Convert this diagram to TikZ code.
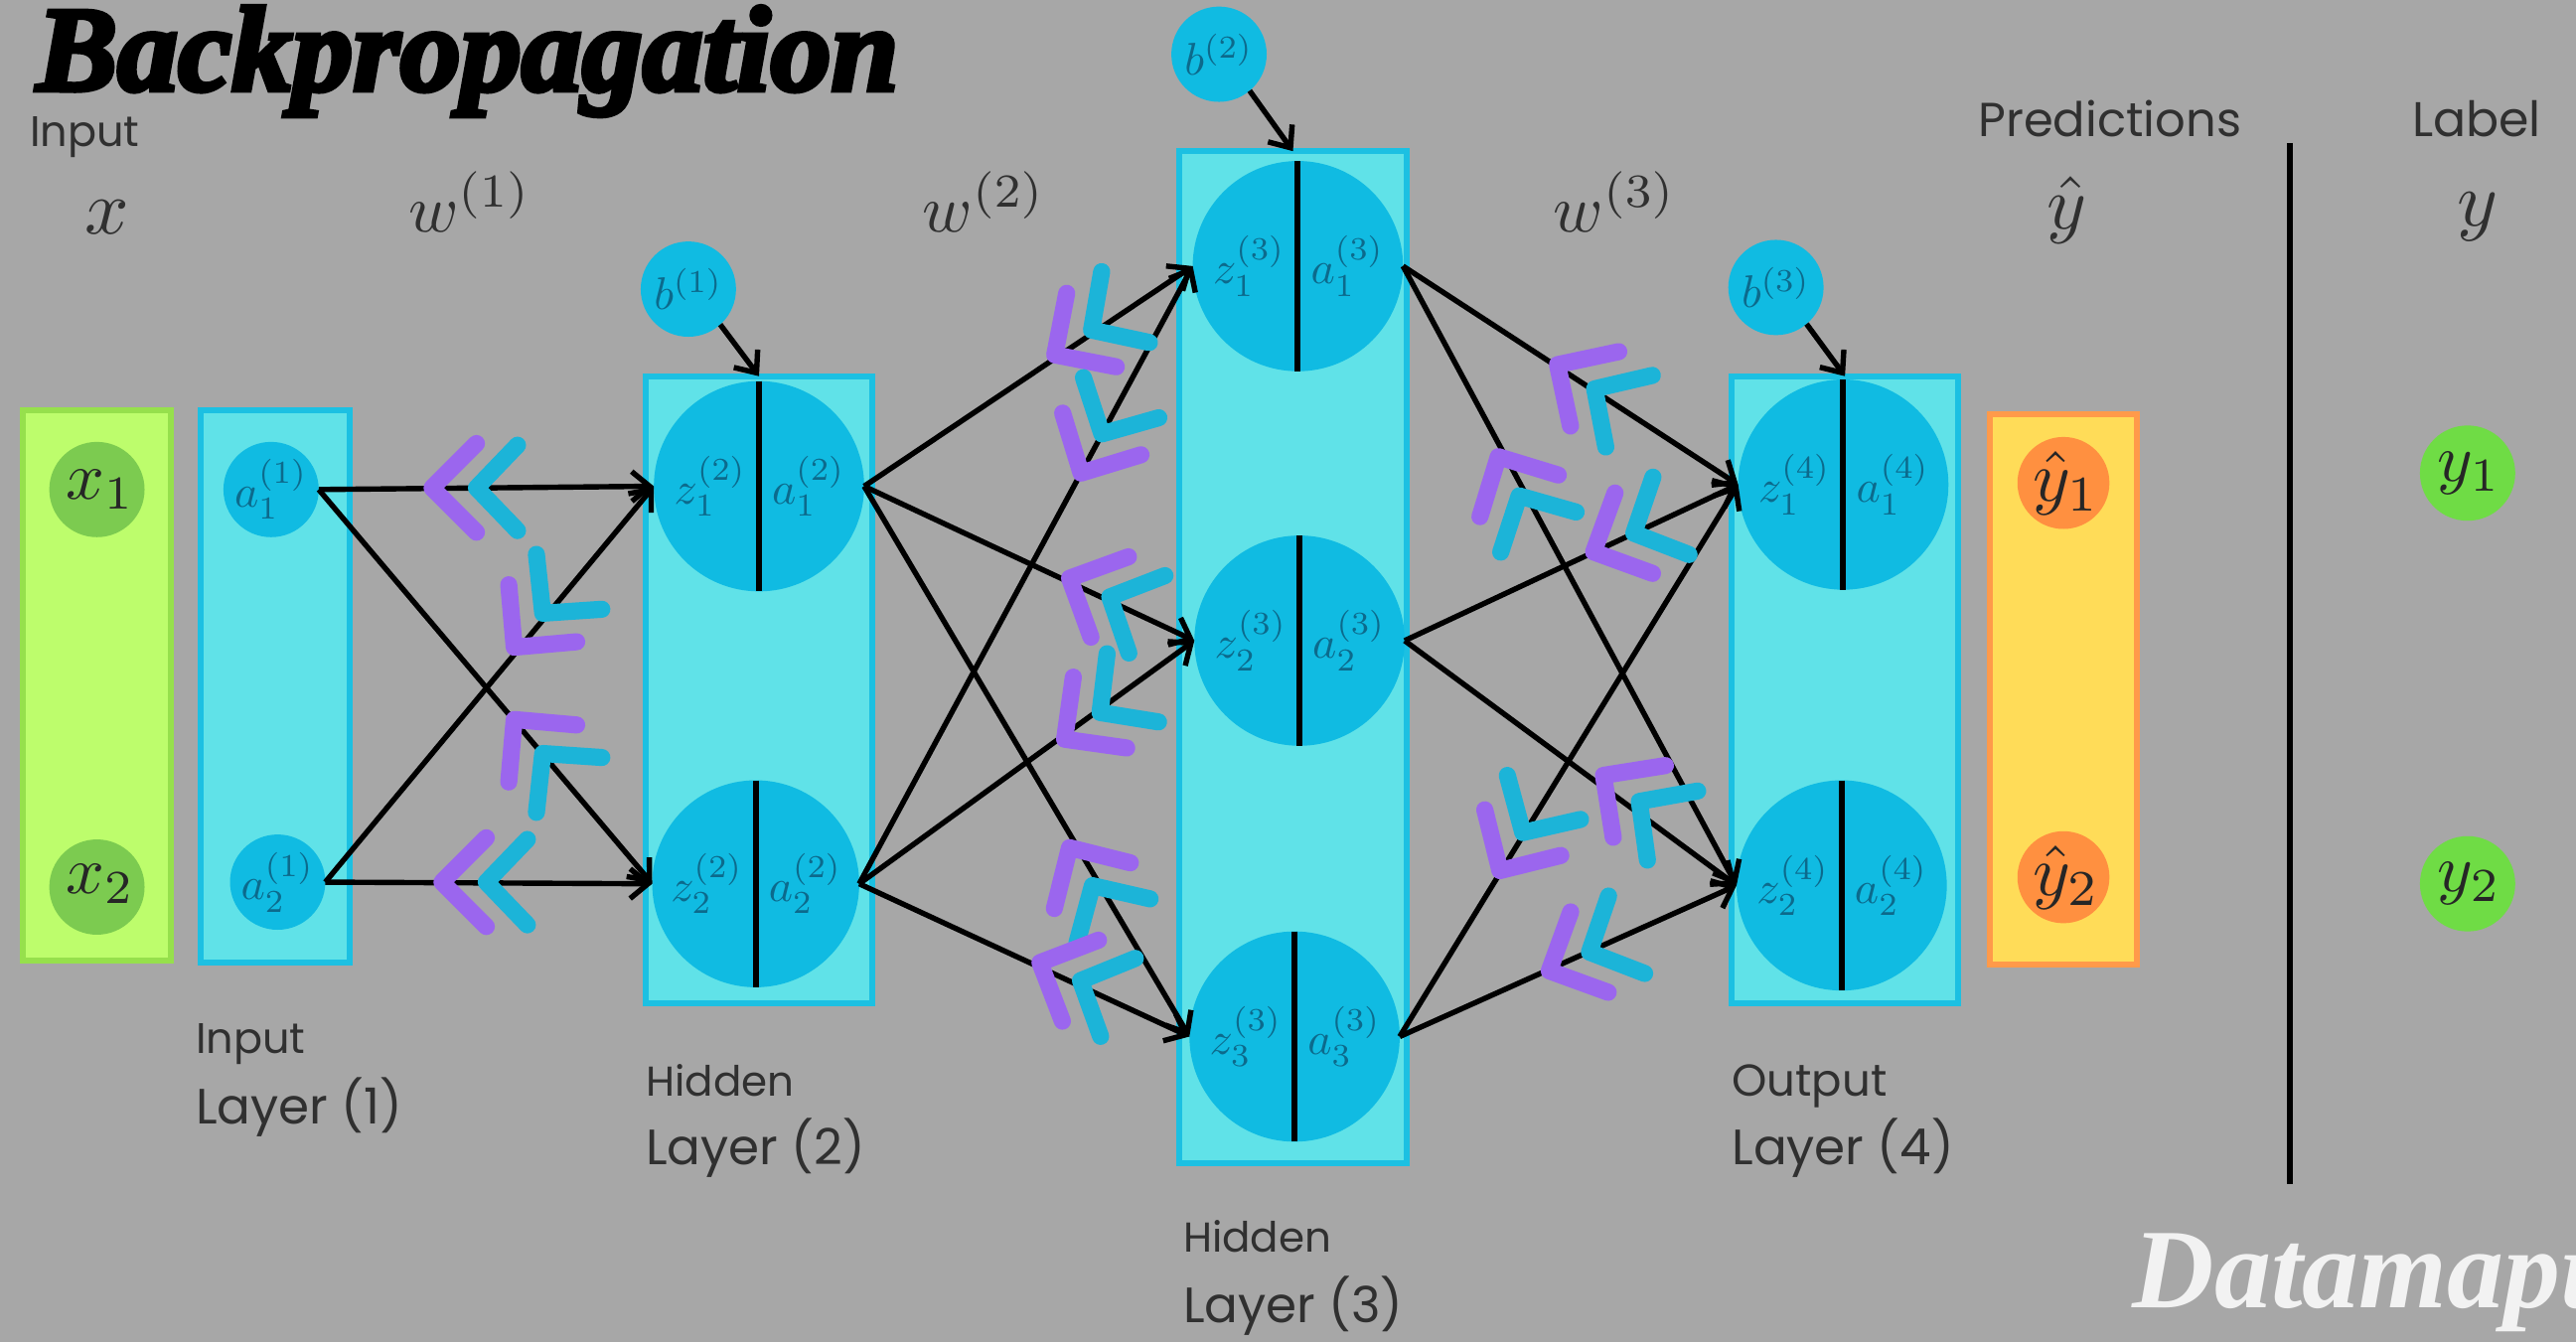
\documentclass[tikz,border=0pt]{standalone}
\usepackage{fontspec}
\usepackage{graphicx}
\usetikzlibrary{arrows.meta}
\newfontfamily\handf{Poppins}
\newfontfamily\titlef[FakeBold=4]{Liberation Serif}
\newfontfamily\wmarkf{Liberation Serif}
\definecolor{bggray}{HTML}{A7A7A7}
\definecolor{cyanfill}{HTML}{60E2E8}
\definecolor{cyanline}{HTML}{1CC0E2}
\definecolor{cyandeep}{HTML}{10BBE2}
\definecolor{limefill}{HTML}{BDFD6C}
\definecolor{limeline}{HTML}{96E04C}
\definecolor{leafdeep}{HTML}{7CCB50}
\definecolor{yellowfill}{HTML}{FFDC58}
\definecolor{orangeline}{HTML}{FF9A4A}
\definecolor{orangedeep}{HTML}{FF9040}
\definecolor{greendeep}{HTML}{6FDC45}
\definecolor{purplec}{HTML}{9B66EE}
\definecolor{bluec}{HTML}{1CB4D8}
\definecolor{inktext}{HTML}{0C6A8C}
\definecolor{graytext}{HTML}{303030}
\newcommand{\mth}[2]{\scalebox{#1}{$#2$}}
\newcommand{\handsz}[1]{\handf\fontsize{#1}{#1}\selectfont}
\newcommand{\chev}[3]{%
  \begin{scope}[shift={(#1,#2)},rotate=#3]
    \draw[chevblue] (-52,-26) -- (-27,0) -- (-52,26);
    \draw[chevpurple] (-27,-27) -- (0,0) -- (-27,27);
  \end{scope}}
\tikzset{
  bx/.style n args={4}{draw=#3,fill=#4,line width=3pt,inner sep=0pt,outer sep=0pt,
     minimum width=#1*0.82685pt,minimum height=#2*0.82685pt},
  cir/.style n args={2}{circle,fill=#2,draw=none,inner sep=0pt,outer sep=0pt,minimum size=#1*1.6537pt},
  edge/.style={draw=black,line width=2.7pt,-{Straight Barb[length=9pt,width=15pt,line width=2.7pt]}},
  split/.style={draw=black,line width=3pt},
  chevblue/.style={draw=bluec,line width=8.6pt,line cap=round,line join=round},
  chevpurple/.style={draw=purplec,line width=8.6pt,line cap=round,line join=round},
  hand/.style={anchor=base west,inner sep=0pt,text=graytext},
  mlab/.style={inner sep=0pt,text=graytext},
  clab/.style={inner sep=0pt,text=black!85},
  nlab/.style={inner sep=0pt,text=inktext},
}
\begin{document}
\begin{tikzpicture}[x=0.82685pt,y=-0.82685pt]
\useasboundingbox (0,0) rectangle (1568,817);
\clip (0,0) rectangle (1568,817);
\fill[bggray] (0,0) rectangle (1568,817);

% layer boxes
\node[bx={90}{335}{limeline}{limefill}] (bxx) at (59,417.5) {};
\node[bx={91}{336}{cyanline}{cyanfill}] (bx1) at (167.5,418) {};
\node[bx={138}{382}{cyanline}{cyanfill}] (bx2) at (462,420) {};
\node[bx={138}{616}{cyanline}{cyanfill}] (bx3) at (787,400) {};
\node[bx={138}{382}{cyanline}{cyanfill}] (bx4) at (1123,420) {};
\node[bx={90}{335}{orangeline}{yellowfill}] (bxy) at (1256,419.5) {};

% input and output circles
\node[cir={29}{leafdeep}] (x1) at (59,298) {};
\node[cir={29}{leafdeep}] (x2) at (59,540) {};
\node[cir={29}{cyandeep}] (a11) at (165,298) {};
\node[cir={29}{cyandeep}] (a12) at (169,537) {};
\node[cir={29}{cyandeep}] (b1) at (419,176) {};
\node[cir={29}{cyandeep}] (b2) at (742,33) {};
\node[cir={29}{cyandeep}] (b3) at (1081,175) {};
\node[cir={28}{orangedeep}] (yh1) at (1256,294) {};
\node[cir={28}{orangedeep}] (yh2) at (1256,534) {};
\node[cir={29}{greendeep}] (y1) at (1502,288) {};
\node[cir={29}{greendeep}] (y2) at (1502,538) {};

% split neurons
\node[cir={64}{cyandeep}] (h21) at (462,296) {};
\node[cir={63}{cyandeep}] (h22) at (460,538) {};
\node[cir={64}{cyandeep}] (h31) at (790,162) {};
\node[cir={64}{cyandeep}] (h32) at (791,390) {};
\node[cir={64}{cyandeep}] (h33) at (788,631) {};
\node[cir={64}{cyandeep}] (h41) at (1122,295) {};
\node[cir={64}{cyandeep}] (h42) at (1121,539) {};
\foreach \n in {h21,h22,h31,h32,h33,h41,h42}{\draw[split] (\n.north) -- (\n.south);}

% connectors
\foreach \s in {a11,a12}{\foreach \t in {h21,h22}{\draw[edge] (\s.east) -- (\t.west);}}
\foreach \s in {h21,h22}{\foreach \t in {h31,h32,h33}{\draw[edge] (\s.east) -- (\t.west);}}
\foreach \s in {h31,h32,h33}{\foreach \t in {h41,h42}{\draw[edge] (\s.east) -- (\t.west);}}
\draw[edge] (b1.-48) -- (bx2.north);
\draw[edge] (b2.-50) -- (bx3.north);
\draw[edge] (b3.-50) -- (bx4.north);

% backward chevrons
\chev{263}{297}{180}
\chev{313}{394}{230}
\chev{313}{438}{130}
\chev{269}{537}{180}
\chev{642}{216}{214}
\chev{658}{288}{242}
\chev{651}{352}{155}
\chev{648}{450}{217}
\chev{651}{516}{121}
\chev{633}{586}{156}
\chev{948}{222}{147}
\chev{912}{278}{118}
\chev{970}{336}{205}
\chev{976}{472}{144}
\chev{913}{530}{239}
\chev{943}{591}{205}

% divider
\coordinate (divtop) at (1394,87);
\coordinate (divbot) at (1394,721);
\draw[black,line width=3pt] (divtop) -- (divbot);

% math labels
\node[mlab] (lx) at (65,132) {\mth{3.9}{x}};
\node[mlab] (lw1) at (286,123) {\mth{3.4}{w^{(1)}}};
\node[mlab] (lw2) at (599,123) {\mth{3.4}{w^{(2)}}};
\node[mlab] (lw3) at (983,123) {\mth{3.4}{w^{(3)}}};
\node[mlab] (lyh) at (1258,128) {\mth{3.8}{\hat{y}}};
\node[mlab] (ly) at (1508,132) {\mth{3.9}{y}};

\node[clab] (tx1) at (61,298) {\mth{3.4}{x_1}};
\node[clab] (tx2) at (61,538) {\mth{3.4}{x_2}};
\node[clab] (tyh1) at (1258,294) {\mth{3.6}{\hat{y}_1}};
\node[clab] (tyh2) at (1258,534) {\mth{3.6}{\hat{y}_2}};
\node[clab] (ty1) at (1503,288) {\mth{3.4}{y_1}};
\node[clab] (ty2) at (1503,538) {\mth{3.4}{y_2}};

\node[nlab] (ta11) at (a11) {\mth{2.3}{a_1^{(1)}}};
\node[nlab] (ta12) at (a12) {\mth{2.3}{a_2^{(1)}}};
\node[nlab] (tb1) at (b1) {\mth{2.3}{b^{(1)}}};
\node[nlab] (tb2) at (b2) {\mth{2.3}{b^{(2)}}};
\node[nlab] (tb3) at (b3) {\mth{2.3}{b^{(3)}}};

\foreach \n/\i/\l in {h21/1/2,h22/2/2,h31/1/3,h32/2/3,h33/3/3,h41/1/4,h42/2/4}{
  \node[nlab,xshift=-24.5pt] (tz\n) at (\n) {\mth{2.3}{z_{\i}^{(\l)}}};
  \node[nlab,xshift=25pt] (ta\n) at (\n) {\mth{2.3}{a_{\i}^{(\l)}}};
}

% words
\node[hand,font=\handsz{21.5}] (wi) at (18,89) {Input};
\node[hand,font=\handsz{24}] (wp) at (1204,83) {Predictions};
\node[hand,font=\handsz{24.5}] (wl) at (1468,83) {Label};
\node[hand,font=\handsz{21.5}] (w1a) at (119,641) {Input};
\node[hand,font=\handsz{25}] (w1b) at (119,684) {Layer (1)};
\node[hand,font=\handsz{21}] (w2a) at (393,667) {Hidden};
\node[hand,font=\handsz{25}] (w2b) at (393,709) {Layer (2)};
\node[hand,font=\handsz{21}] (w3a) at (720,762) {Hidden};
\node[hand,font=\handsz{25}] (w3b) at (720,805) {Layer (3)};
\node[hand,font=\handsz{22.5}] (w4a) at (1054,667) {Output};
\node[hand,font=\handsz{25}] (w4b) at (1054,709) {Layer (4)};

% title and watermark
\node[anchor=base west,inner sep=0pt,text=black,font=\titlef\bfseries\itshape\fontsize{61}{64}\selectfont] (title) at (22,55) {Backpropagation};
\node[anchor=base west,inner sep=0pt,text=white!85!bggray,font=\wmarkf\bfseries\itshape\fontsize{57}{60}\selectfont] (wm) at (1298,796) {Datamapu};
\end{tikzpicture}
\end{document}
